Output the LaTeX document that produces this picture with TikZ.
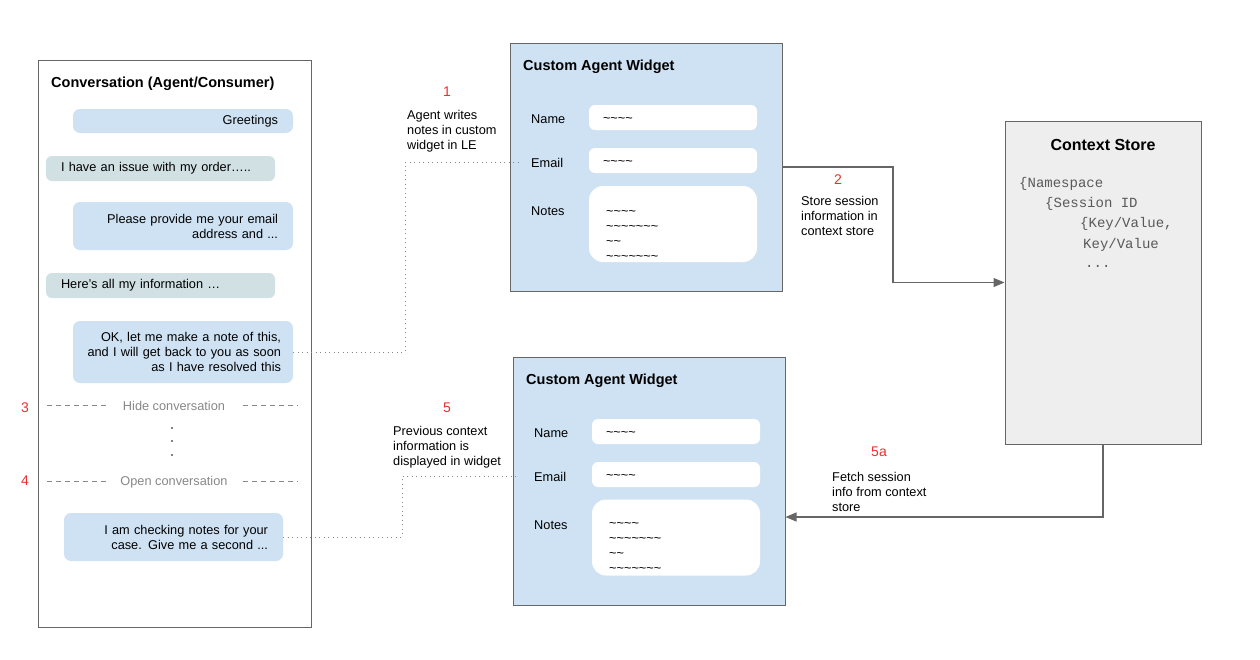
\documentclass[tikz,border=0pt]{standalone}
\usepackage{fontspec}
\setmainfont{Liberation Sans}
\setmonofont{Liberation Mono}
\usetikzlibrary{arrows.meta}
\definecolor{bub}{HTML}{CFE2F3}
\definecolor{gbub}{HTML}{D0E0E3}
\definecolor{edgec}{HTML}{666666}
\definecolor{storec}{HTML}{EEEEEE}
\definecolor{numc}{HTML}{E8312F}
\definecolor{faint}{HTML}{888888}
\definecolor{monoc}{HTML}{595959}
\newcommand{\twid}{\textasciitilde}
\newcommand{\fourtw}{\twid\twid\twid\twid}
\begin{document}
\begin{tikzpicture}[x=1pt,y=-1pt,
  font=\fontsize{12.75}{15}\selectfont,
  panel/.style={draw=edgec, line width=1pt, inner sep=0pt},
  bubble/.style={fill=bub, rounded corners=7pt, inner xsep=15pt, inner ysep=0pt, align=right},
  gbubble/.style={fill=gbub, rounded corners=6pt, inner xsep=15pt, inner ysep=0pt, align=left},
  ttl/.style={font=\fontsize{14.5}{17}\selectfont\bfseries, anchor=west, inner sep=0pt, yshift=-1.5pt},
  lbl/.style={anchor=west, inner sep=0pt, align=left, yshift=-1.5pt},
  field/.style={fill=white, rounded corners=6pt, text width=140pt, inner xsep=14pt, inner ysep=0pt, minimum height=25pt, align=left, text height=10pt, text depth=0pt},
  notebox/.style={fill=white, rounded corners=14pt, minimum width=168pt, minimum height=76pt, inner sep=0pt},
  numl/.style={text=numc, font=\fontsize{14}{16}\selectfont, inner sep=0pt},
  mono/.style={font=\fontsize{14}{20}\ttfamily, text=monoc, anchor=west, inner sep=0pt},
  arr/.style={draw=edgec, line width=1.2pt, -{Triangle[length=11pt,width=9pt]}},
  dotl/.style={draw=faint, line width=1pt, dash pattern=on 1pt off 3.5pt},
  dsh/.style={draw=faint, line width=1pt, dash pattern=on 5pt off 4pt}]
\useasboundingbox (0,0) rectangle (1260,659);

% Conversation panel
\node[panel, fill=white, minimum width=273pt, minimum height=567pt] (conv) at (174.5,343.5) {};
\node[ttl] (convt) at (51,82) {Conversation (Agent/Consumer)};
\node[bubble, text width=190pt, minimum height=24pt] (greet) at (183,121) {Greetings};
\node[gbubble, text width=199pt, minimum height=25pt] (issue) at (160.5,168.5) {I have an issue with my order…..};
\node[bubble, text width=190pt, minimum height=48pt] (please) at (183,226) {Please provide me your email\\address and ...};
\node[gbubble, text width=199pt, minimum height=25pt] (here) at (160.5,285.5) {Here’s all my information …};
\node[bubble, text width=196pt, inner xsep=12pt, minimum height=62pt] (ok) at (183,352) {OK, let me make a note of this,\\and I will get back to you as soon\\as I have resolved this};
\node[bubble, text width=189pt, minimum height=48pt] (chk) at (173.5,537) {I am checking notes for your\\case. Give me a second ...};

\node[text=faint, inner sep=0pt] (hide) at (174,406) {Hide conversation};
\draw[dsh] (47,405) -- (106,405);
\draw[dsh] (243,405) -- (298,405);
\node[text=faint, inner sep=0pt] (open) at (174,482) {Open conversation};
\draw[dsh] (47,481) -- (106,481);
\draw[dsh] (243,481) -- (298,481);
\foreach \yy in {428,441,455} \fill (172,\yy) circle (0.9pt);
\node[numl] (n3) at (25,408) {3};
\node[numl] (n4) at (25,481) {4};

% Widget 1
\node[panel, fill=bub, minimum width=272pt, minimum height=248pt] (w1) at (646,167) {};
\node[ttl] (w1t) at (523,65) {Custom Agent Widget};
\node[lbl] (lname1) at (531,118) {Name};
\node[lbl] (lem1) at (531,161) {Email};
\node[lbl] (lnotes1) at (531,210) {Notes};
\node[field] (fname1) at (673,117.5) {\fourtw};
\node[field] (fem1) at (673,160.5) {\fourtw};
\node[notebox] (fnotes1) at (673,224) {};
\node[lbl, anchor=north west, yshift=0pt] (tnotes1) at (606,208.5) {\twid\twid\twid\twid\\\twid\twid\twid\twid\twid\twid\twid\\\twid\twid\\\twid\twid\twid\twid\twid\twid\twid};

% Widget 2
\node[panel, fill=bub, minimum width=272pt, minimum height=248pt] (w2) at (649,481) {};
\node[ttl] (w2t) at (526,379) {Custom Agent Widget};
\node[lbl] (lname2) at (534,432) {Name};
\node[lbl] (lem2) at (534,475) {Email};
\node[lbl] (lnotes2) at (534,524) {Notes};
\node[field] (fname2) at (676,431.5) {\fourtw};
\node[field] (fem2) at (676,474.5) {\fourtw};
\node[notebox] (fnotes2) at (676,537.5) {};
\node[lbl, anchor=north west, yshift=0pt] (tnotes2) at (609,521) {\twid\twid\twid\twid\\\twid\twid\twid\twid\twid\twid\twid\\\twid\twid\\\twid\twid\twid\twid\twid\twid\twid};

% Context store
\node[panel, fill=storec, minimum width=196pt, minimum height=323pt] (cs) at (1103,282.5) {};
\node[font=\fontsize{16}{19}\selectfont\bfseries, inner sep=0pt] (cst) at (1103,145) {Context Store};
\node[mono] (m1) at (1019,184) {\{Namespace};
\node[mono] (m2) at (1045,204) {\{Session ID};
\node[mono] (m3) at (1080,224) {\{Key/Value,};
\node[mono] (m4) at (1083,245) {Key/Value};
\node[mono] (m5) at (1085,266) {...};

% Labels
\node[numl] (n1) at (447,92) {1};
\node[lbl] (t1) at (407,130) {Agent writes\\notes in custom\\widget in LE};
\node[numl] (n2) at (838,180) {2};
\node[lbl] (t2) at (801,214) {Store session\\information in\\context store};
\node[numl] (n5) at (447,408) {5};
\node[lbl] (t5) at (393,446) {Previous context\\information is\\displayed in widget};
\node[numl] (n5a) at (879,452) {5a};
\node[lbl] (t5a) at (832,490) {Fetch session\\info from context\\store};

% Connectors
\coordinate (a2) at (893,167);
\draw[arr] (w1.east) -- (a2) |- (cs.west);
\coordinate (a5) at (1103,517);
\draw[arr] (cs.south) -- (a5) -- (a5 -| w2.east);
\coordinate (d1) at (405,352);
\draw[dotl] (ok.east) -- (d1) |- ([xshift=-12pt]lem1.west);
\coordinate (d5) at (402,537);
\draw[dotl] (chk.east) -- (d5) |- ([xshift=-16pt]lem2.west);
\end{tikzpicture}
\end{document}
